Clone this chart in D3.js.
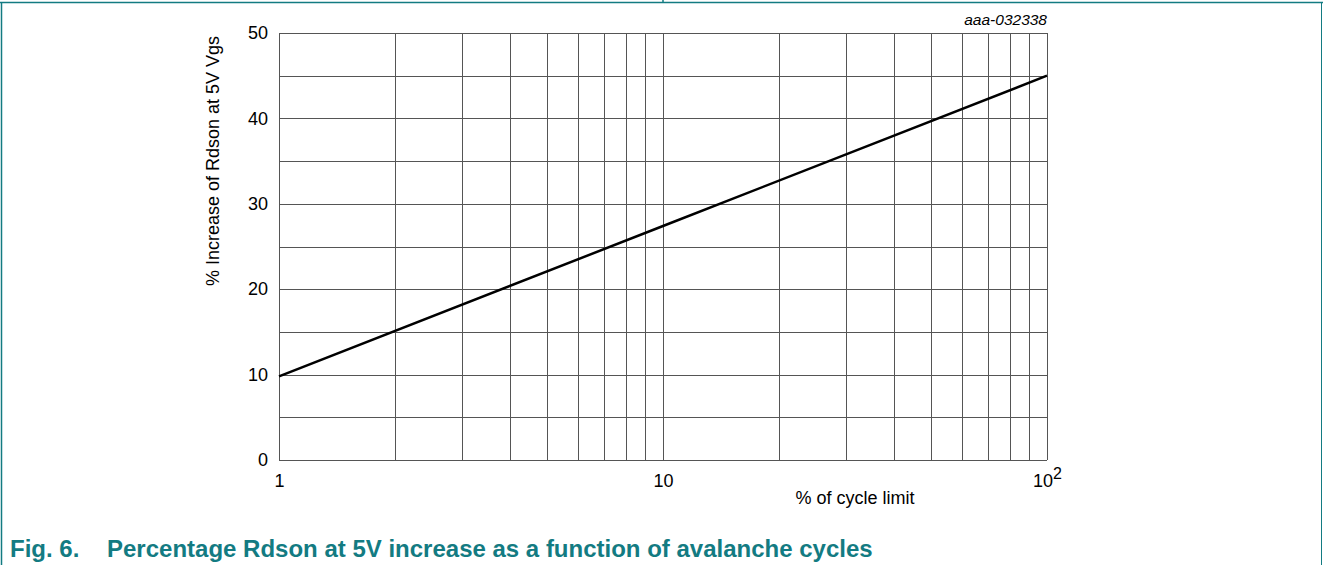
<!DOCTYPE html>
<html><head><meta charset="utf-8">
<script src="https://cdn.jsdelivr.net/npm/d3@7"></script>
<style>body{margin:0;background:#fff;}svg{display:block;font-family:Arial,"Liberation Sans",sans-serif;}</style>
</head><body>
<svg id="c" width="1323" height="565"></svg>
<script>
const xVals = [1, 10, 100];
const yVals = [9.8, 27.4, 45];
const yTicks = [0, 10, 20, 30, 40, 50];
const xTickLabels = ["1", "10", "10²"];

const svg = d3.select("#c");
const L = 279, R = 1047, T = 33, B = 460;
const x = d3.scaleLog().domain([1, 100]).range([L, R]);
const y = d3.scaleLinear().domain([0, 50]).range([B, T]);
const teal = "#137b82";
const FF = "Arial, Liberation Sans, sans-serif";

// frame
svg.append("line").attr("x1", 0).attr("x2", 1323).attr("y1", 2.5).attr("y2", 2.5).attr("stroke", teal).attr("stroke-width", 1.5);
svg.append("line").attr("x1", 1.5).attr("x2", 1.5).attr("y1", 2).attr("y2", 565).attr("stroke", teal).attr("stroke-width", 1.5);
svg.append("line").attr("x1", 1321.5).attr("x2", 1321.5).attr("y1", 2).attr("y2", 565).attr("stroke", teal).attr("stroke-width", 1);
svg.append("line").attr("x1", 663).attr("x2", 663).attr("y1", 0).attr("y2", 3).attr("stroke", teal).attr("stroke-width", 1.5);

// grid
const g = svg.append("g");
const minor = [];
for (let d = 1; d <= 10; d *= 10) for (let k = 1; k <= 9; k++) minor.push(d * k);
minor.push(100);
g.selectAll(".vx").data(minor).join("line")
  .attr("x1", d => Math.round(x(d)) + 0.5).attr("x2", d => Math.round(x(d)) + 0.5)
  .attr("y1", T).attr("y2", B).attr("stroke", "#555").attr("stroke-width", 1);
g.selectAll(".hy").data(d3.range(0, 51, 5)).join("line")
  .attr("y1", d => Math.round(y(d)) + 0.5).attr("y2", d => Math.round(y(d)) + 0.5)
  .attr("x1", L).attr("x2", R).attr("stroke", "#555").attr("stroke-width", 1);

// axes labels
const yAxis = d3.axisLeft(y).tickValues(yTicks).tickSize(0).tickPadding(11);
svg.append("g").attr("transform", `translate(${L},0)`).call(yAxis)
  .call(s => s.select(".domain").remove())
  .selectAll("text").attr("font-size", 18).attr("fill", "#000").attr("font-family", FF);

const xAxis = d3.axisBottom(x).tickValues(xVals).tickSize(0).tickPadding(14).tickFormat(() => "");
const xg = svg.append("g").attr("transform", `translate(0,${B})`).call(xAxis);
xg.select(".domain").remove();
xg.selectAll(".tick").each(function(d, i) {
  const t = d3.select(this).select("text").attr("font-size", 18).attr("fill", "#000").attr("font-family", FF);
  if (i === 2) {
    t.text(null);
    t.append("tspan").text("10");
    t.append("tspan").attr("dy", -8).attr("font-size", 16).text("2");
  } else t.text(xTickLabels[i]);
});

svg.append("text").attr("x", 855).attr("y", 504).attr("text-anchor", "middle").attr("font-size", 18).attr("font-family", FF).text("% of cycle limit");
svg.append("text").attr("transform", `translate(219,161) rotate(-90)`).attr("text-anchor", "middle").attr("font-size", 18).attr("font-family", FF).text("% Increase of Rdson at 5V Vgs");
svg.append("text").attr("x", R).attr("y", 25).attr("text-anchor", "end").attr("font-size", 15.5).attr("font-style", "italic").attr("font-family", FF).text("aaa-032338");

// data line
const line = d3.line().x((d, i) => x(xVals[i])).y(d => y(d));
svg.append("path").datum(yVals).attr("d", line).attr("fill", "none").attr("stroke", "#000").attr("stroke-width", 2.5);

// caption
svg.append("text").attr("x", 10).attr("y", 557).attr("font-size", 24).attr("font-weight", "bold").attr("fill", teal).attr("font-family", FF).text("Fig. 6.");
svg.append("text").attr("x", 107).attr("y", 557).attr("font-size", 24).attr("font-weight", "bold").attr("fill", teal).attr("font-family", FF).text("Percentage Rdson at 5V increase as a function of avalanche cycles");
</script>
</body></html>
